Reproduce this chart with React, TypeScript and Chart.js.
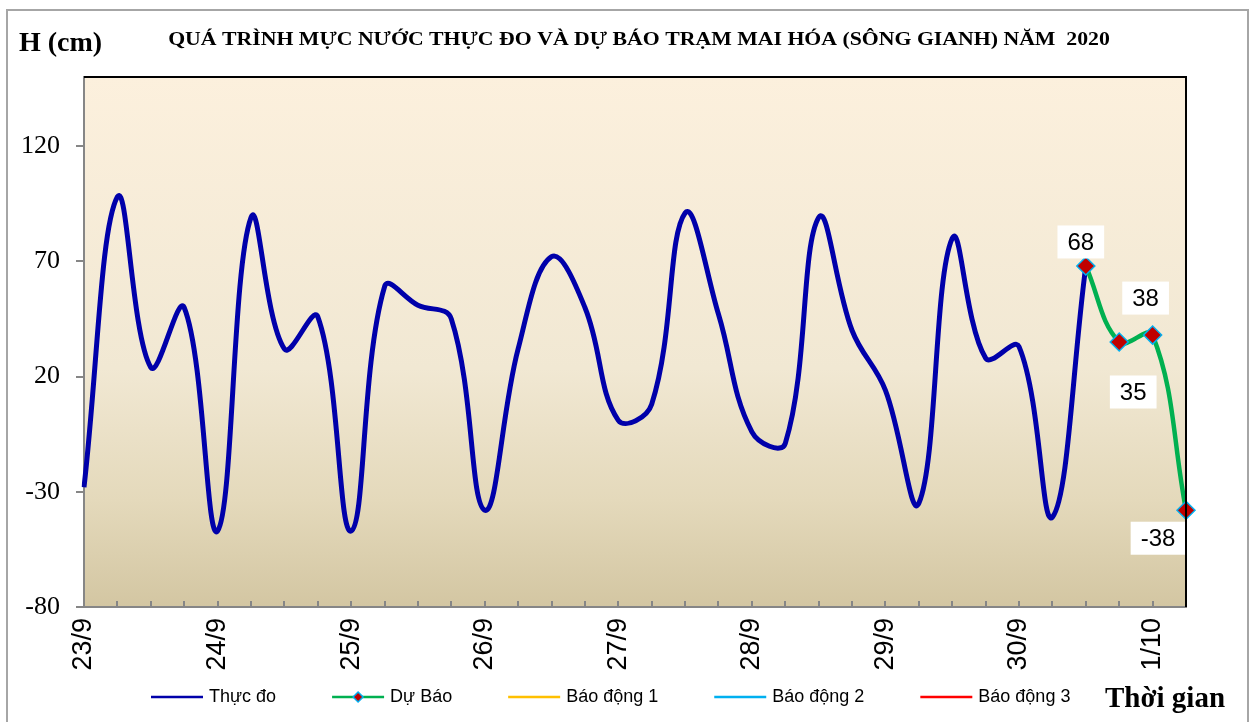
import React, { useEffect, useRef } from 'react';
import { Chart, registerables } from 'chart.js';

Chart.register(...registerables);

// ---------- data ----------
const dayLabels = ['23/9', '24/9', '25/9', '26/9', '27/9', '28/9', '29/9', '30/9', '1/10'];
const hourLabels = ['00h', '06h', '12h', '18h'];
const observed = [
  -28, 98, 24, 50, -47, 89, 32, 46, -47, 59, 51, 45, -38, 32, 72, 50,
  1, 8, 91, 47, -4, -9, 89, 40, 14, -35, 80, 28, 33, -41, 68,
];
const forecast = [68, 35, 38, -38];
const forecastStart = 30;
const yTicks = [-80, -30, 20, 70, 120];
const yMin = -80;
const yMax = 150;

const titleText = 'QUÁ TRÌNH MỰC NƯỚC THỰC ĐO VÀ DỰ BÁO TRẠM MAI HÓA (SÔNG GIANH) NĂM  2020';
const yAxisTitle = 'H (cm)';
const xAxisTitle = 'Thời gian';
const seriesNames = ['Thực đo', 'Dự Báo', 'Báo động 1', 'Báo động 2', 'Báo động 3'];

// label offsets (style) for forecast data labels, px relative to the point
const labelOffsets = [
  [-5, -24],
  [14, 50],
  [-7, -37],
  [-28, 28],
];

const nPoints = observed.length + forecast.length - 1;
const timeLabels = dayLabels
  .flatMap((d) => hourLabels.map((h) => `${d} ${h}`))
  .slice(0, nPoints);
const forecastData: (number | null)[] = Array(forecastStart).fill(null).concat(forecast);

const decorPlugin = {
  id: 'decor',
  beforeDraw(chart: any) {
    const { ctx, chartArea: a } = chart;
    ctx.save();
    // outer frame
    ctx.strokeStyle = '#A6A6A6';
    ctx.lineWidth = 2;
    ctx.strokeRect(7, 10, 1241, 760);
    // plot background gradient
    const g = ctx.createLinearGradient(0, a.top, 0, a.bottom);
    g.addColorStop(0, '#FCF0DD');
    g.addColorStop(0.55, '#F1E8D3');
    g.addColorStop(0.8, '#E4D9BB');
    g.addColorStop(1, '#D3C6A2');
    ctx.fillStyle = g;
    ctx.fillRect(a.left, a.top, a.right - a.left, a.bottom - a.top);
    ctx.restore();
  },
  beforeDatasetsDraw(chart: any) {
    const { ctx, chartArea: a, scales } = chart;
    const x = scales.x;
    ctx.save();
    ctx.strokeStyle = '#868686';
    ctx.lineWidth = 2;
    for (let i = 1; i < timeLabels.length; i++) {
      const px = Math.round(x.getPixelForValue(i));
      ctx.beginPath();
      ctx.moveTo(px, a.bottom);
      ctx.lineTo(px, a.bottom - 6);
      ctx.stroke();
    }
    ctx.restore();
  },
  afterDatasetsDraw(chart: any) {
    const { ctx } = chart;
    const meta = chart.getDatasetMeta(1);
    ctx.save();
    ctx.font = '24px "Liberation Sans", Arial, sans-serif';
    ctx.textAlign = 'center';
    ctx.textBaseline = 'middle';
    forecast.forEach((v, i) => {
      const el = meta.data[forecastStart + i];
      if (!el) return;
      const [dx, dy] = labelOffsets[i];
      const cx = el.x + dx;
      const cy = el.y + dy;
      const text = String(v);
      const w = ctx.measureText(text).width + 20;
      const h = 33;
      ctx.fillStyle = '#FFFFFF';
      ctx.fillRect(cx - w / 2, cy - h / 2, w, h);
      ctx.fillStyle = '#000000';
      ctx.fillText(text, cx, cy + 1);
    });
    ctx.restore();
  },
  afterDraw(chart: any) {
    const { ctx, chartArea: a } = chart;
    ctx.save();
    // top / right plot border
    ctx.strokeStyle = '#000000';
    ctx.lineWidth = 2;
    ctx.beginPath();
    ctx.moveTo(a.left, a.top);
    ctx.lineTo(a.right, a.top);
    ctx.lineTo(a.right, a.bottom);
    ctx.stroke();

    // titles
    ctx.fillStyle = '#000000';
    ctx.textBaseline = 'alphabetic';
    ctx.font = 'bold 28px "Liberation Serif", "Times New Roman", serif';
    ctx.textAlign = 'left';
    ctx.fillText(yAxisTitle, 19, 51);

    ctx.save();
    ctx.font = 'bold 18px "Liberation Serif", "Times New Roman", serif';
    ctx.textAlign = 'center';
    ctx.translate(639, 45);
    ctx.scale(1.21, 1);
    ctx.fillText(titleText, 0, 0);
    ctx.restore();

    ctx.font = 'bold 29px "Liberation Serif", "Times New Roman", serif';
    ctx.textAlign = 'left';
    ctx.fillText(xAxisTitle, 1105, 707);

    // legend
    const ly = 697;
    let lx = 151;
    ctx.font = '18px "Liberation Sans", Arial, sans-serif';
    ctx.textBaseline = 'middle';
    chart.data.datasets.forEach((ds: any) => {
      ctx.strokeStyle = ds.borderColor;
      ctx.lineWidth = 2.5;
      ctx.beginPath();
      ctx.moveTo(lx, ly);
      ctx.lineTo(lx + 52, ly);
      ctx.stroke();
      if (ds.pointStyle === 'rectRot') {
        const cx = lx + 26;
        const r = 5;
        ctx.beginPath();
        ctx.moveTo(cx, ly - r);
        ctx.lineTo(cx + r, ly);
        ctx.lineTo(cx, ly + r);
        ctx.lineTo(cx - r, ly);
        ctx.closePath();
        ctx.fillStyle = ds.pointBackgroundColor;
        ctx.fill();
        ctx.strokeStyle = ds.pointBorderColor;
        ctx.lineWidth = 1.5;
        ctx.stroke();
      }
      ctx.fillStyle = '#000000';
      ctx.fillText(ds.label, lx + 58, ly);
      lx += 58 + ctx.measureText(ds.label).width + 56;
    });
    ctx.restore();
  },
};

export default function App() {
  const canvasRef = useRef<HTMLCanvasElement | null>(null);

  useEffect(() => {
    if (!canvasRef.current) return;
    const chart = new Chart(canvasRef.current, {
      type: 'line',
      data: {
        labels: timeLabels,
        datasets: [
          {
            label: seriesNames[0],
            data: observed,
            borderColor: '#0000AA',
            backgroundColor: '#0000AA',
            borderWidth: 5,
            pointRadius: 0,
            tension: 0.4,
            order: 1,
          },
          {
            label: seriesNames[1],
            data: forecastData,
            borderColor: '#00B050',
            backgroundColor: '#00B050',
            borderWidth: 4.5,
            pointStyle: 'rectRot',
            pointRadius: 9,
            pointBackgroundColor: '#C00000',
            pointBorderColor: '#00B0F0',
            pointBorderWidth: 1.5,
            tension: 0.4,
            clip: false as any,
            order: 0,
          },
          { label: seriesNames[2], data: [], borderColor: '#FFC000', backgroundColor: '#FFC000', pointRadius: 0 },
          { label: seriesNames[3], data: [], borderColor: '#00B0F0', backgroundColor: '#00B0F0', pointRadius: 0 },
          { label: seriesNames[4], data: [], borderColor: '#FF0000', backgroundColor: '#FF0000', pointRadius: 0 },
        ],
      },
      options: {
        responsive: false,
        animation: false,
        devicePixelRatio: 1,
        layout: { padding: { top: 77, right: 70, left: 0, bottom: 0 } },
        plugins: {
          legend: { display: false },
          title: { display: false },
          tooltip: { enabled: false },
        },
        scales: {
          x: {
            type: 'category',
            offset: false,
            grid: { display: false, drawTicks: false },
            border: { display: true, color: '#868686', width: 2 },
            ticks: {
              autoSkip: false,
              minRotation: 90,
              maxRotation: 90,
              padding: 11,
              color: '#000000',
              font: { family: '"Liberation Sans", Arial, sans-serif', size: 27 },
              callback: (_v: any, i: number) => (i % 4 === 0 ? dayLabels[i / 4] : ''),
            },
            afterFit: (s: any) => {
              s.height = 115;
              s.paddingLeft = 0;
              s.paddingRight = 0;
            },
          },
          y: {
            min: yMin,
            max: yMax,
            grid: { drawOnChartArea: false, drawTicks: true, tickLength: 8, color: '#868686', lineWidth: 2 },
            border: { display: true, color: '#868686', width: 2 },
            ticks: {
              padding: 16,
              color: '#000000',
              font: { family: '"Liberation Serif", "Times New Roman", serif', size: 26 },
            },
            afterBuildTicks: (s: any) => {
              s.ticks = yTicks.map((v) => ({ value: v }));
            },
            afterFit: (s: any) => {
              s.width = 84;
              s.paddingTop = 0;
              s.paddingBottom = 0;
            },
          },
        },
      },
      plugins: [decorPlugin],
    });
    return () => chart.destroy();
  }, []);

  return (
    <div style={{ position: 'fixed', left: 0, top: 0, width: 1256, height: 722, background: '#FFFFFF' }}>
      <canvas ref={canvasRef} width={1256} height={722} />
    </div>
  );
}
